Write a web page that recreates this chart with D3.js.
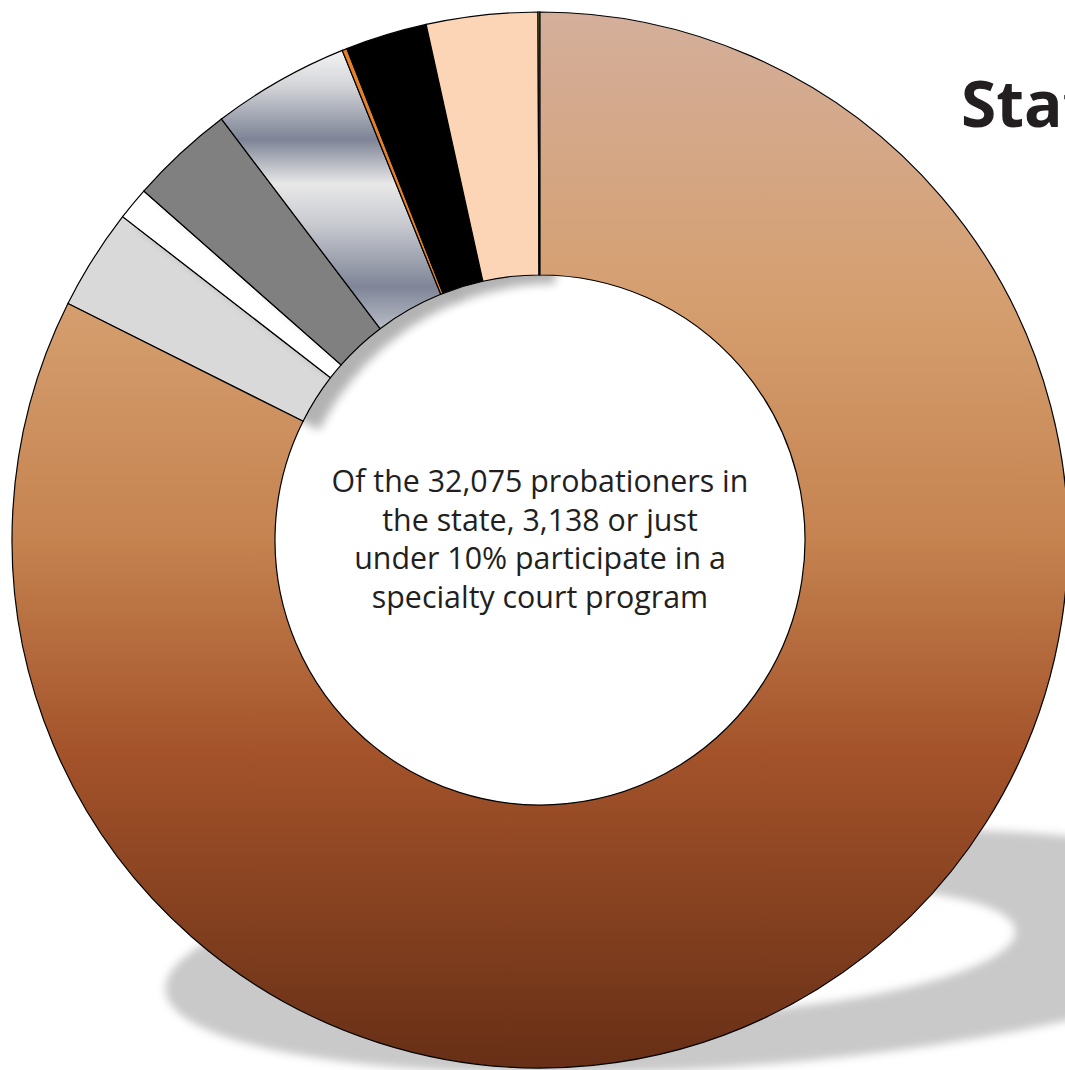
<!DOCTYPE html>
<html><head><meta charset="utf-8">
<script src="https://cdn.jsdelivr.net/npm/d3@7"></script>
<style>html,body{margin:0;padding:0;background:#fff;overflow:hidden}</style>
</head><body>
<svg id="chart" width="1065" height="1070"></svg>
<script>
// ---- data (shares of the ring in %) ----
const categories = ["Not in a specialty court", "Segment 2", "Segment 3", "Segment 4", "Segment 5", "Segment 6", "Segment 7", "Segment 8", "Segment 9"];
const values     = [82.4, 3.1, 1.0, 3.2, 4.2, 0.15, 2.5, 3.4, 0.06];
const fills      = ["url(#gBig)", "#d9d9d9", "#ffffff", "#808080", "url(#gSilver)", "#e3802b", "#050505", "#fbd5b6", "#9bbb59"];
const titleText  = "Stat";
const centerLines = ["Of the 32,075 probationers in", "the state, 3,138 or just", "under 10% participate in a", "specialty court program"];

const W = 1065, H = 1070, cx = 540, cy = 540, R = 528, r = 265;
const svg = d3.select("#chart");
const defs = svg.append("defs");

// gradients
const gBig = defs.append("linearGradient").attr("id", "gBig").attr("x1", 0).attr("y1", 0).attr("x2", 0).attr("y2", 1);
[[0, "#d4af9b"], [0.28, "#d59e6e"], [0.5, "#c58350"], [0.7, "#a4532a"], [1, "#672f16"]]
  .forEach(([o, c]) => gBig.append("stop").attr("offset", o).attr("stop-color", c));
const gS = defs.append("linearGradient").attr("id", "gSilver").attr("x1", 0).attr("y1", 0).attr("x2", 0).attr("y2", 1);
[[0, "#f3f3f3"], [0.12, "#d6d7db"], [0.32, "#7e8496"], [0.48, "#e8e8e8"], [0.62, "#c9cbd1"], [0.85, "#7f8597"], [1, "#b9bcc6"]]
  .forEach(([o, c]) => gS.append("stop").attr("offset", o).attr("stop-color", c));

// filters
const blur = defs.append("filter").attr("id", "blurShadow").attr("x", "-10%").attr("y", "-30%").attr("width", "120%").attr("height", "160%");
blur.append("feGaussianBlur").attr("stdDeviation", 4);
const ds = defs.append("filter").attr("id", "drop").attr("x", "-50%").attr("y", "-50%").attr("width", "200%").attr("height", "200%");
ds.append("feGaussianBlur").attr("in", "SourceAlpha").attr("stdDeviation", 5).attr("result", "b");
ds.append("feOffset").attr("in", "b").attr("dx", 16).attr("dy", 8).attr("result", "o");
ds.append("feComponentTransfer").attr("in", "o").attr("result", "t")
  .append("feFuncA").attr("type", "linear").attr("slope", 0.3);
const m = ds.append("feMerge");
m.append("feMergeNode").attr("in", "t");
m.append("feMergeNode").attr("in", "SourceGraphic");

// ground shadow (elliptical ring)
function ellipsePath(ex, ey, rx, ry) {
  return `M${ex - rx},${ey} a${rx},${ry} 0 1,0 ${2 * rx},0 a${rx},${ry} 0 1,0 ${-2 * rx},0 Z`;
}
svg.append("path")
  .attr("d", ellipsePath(726, 951, 562, 116) + ellipsePath(726, 951, 290, 62))
  .attr("fill-rule", "evenodd")
  .attr("fill", "#c9c9c9")
  .attr("transform", "rotate(-4,726,951)")
  .attr("filter", "url(#blurShadow)");

// donut
const data = categories.map((c, i) => ({ name: c, value: values[i], fill: fills[i] }));
const pie = d3.pie().sort(null).value(d => d.value);
const arc = d3.arc().innerRadius(r).outerRadius(R);
const arcs = pie(data);
const g = svg.append("g").attr("transform", `translate(${cx},${cy})`);

// small slices (with drop shadow) first, the big slice on top
g.selectAll("path.small").data(arcs.slice(1)).enter().append("path")
  .attr("class", "small")
  .attr("d", arc)
  .attr("fill", d => d.data.fill)
  .attr("stroke", "#000").attr("stroke-width", 1.2)
  .attr("filter", "url(#drop)");
g.append("path").datum(arcs[0])
  .attr("d", arc)
  .attr("fill", d => d.data.fill)
  .attr("stroke", "#000").attr("stroke-width", 1.2);

// center text
const t = svg.append("text")
  .attr("text-anchor", "middle")
  .attr("font-family", "'Open Sans', 'Noto Sans', sans-serif")
  .attr("font-size", 27)
  .attr("fill", "#231f20");
centerLines.forEach((l, i) => t.append("tspan").attr("x", cx).attr("y", 492 + i * 38.5).text(l));
// fit first line width to ~417px
const first = t.select("tspan").node();
const wNow = first.getComputedTextLength();
if (wNow > 0) t.attr("font-size", 27 * 417 / wNow);

// title (clipped at right edge, as in the reference)
svg.append("text")
  .attr("x", 961).attr("y", 127)
  .attr("font-family", "'Open Sans', 'Noto Sans', sans-serif")
  .attr("font-weight", 700)
  .attr("font-size", 64)
  .attr("fill", "#231f20")
  .text(titleText);
</script>
</body></html>
